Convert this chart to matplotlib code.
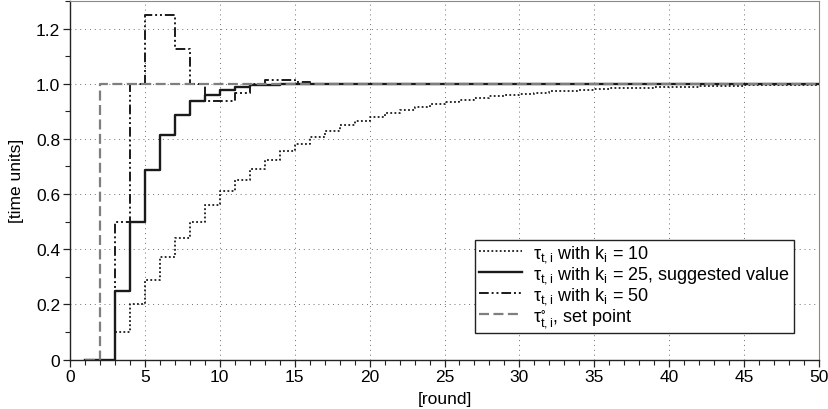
import matplotlib
matplotlib.use("Agg")
import matplotlib.pyplot as plt
from matplotlib.ticker import MultipleLocator, FuncFormatter

plt.rcParams["font.family"] = ["Liberation Sans", "DejaVu Sans"]
plt.rcParams["mathtext.fontset"] = "custom"
plt.rcParams["mathtext.rm"] = "Liberation Sans"
plt.rcParams["mathtext.it"] = "Liberation Sans:italic"
plt.rcParams["mathtext.sf"] = "Liberation Sans"

rounds = list(range(1, 51))

# integral gain k_i = 10
tau_k10 = [0, 0, 0.10, 0.20, 0.29, 0.37, 0.44, 0.50, 0.56, 0.61,
           0.65, 0.69, 0.725, 0.755, 0.783, 0.808, 0.830, 0.850, 0.866, 0.881,
           0.894, 0.906, 0.917, 0.926, 0.935, 0.942, 0.949, 0.955, 0.960, 0.964,
           0.968, 0.972, 0.975, 0.978, 0.980, 0.983, 0.985, 0.986, 0.988, 0.989,
           0.990, 0.991, 0.992, 0.993, 0.994, 0.995, 0.995, 0.996, 0.996, 0.997]

# integral gain k_i = 25 (suggested)
tau_k25 = [0, 0, 0.25, 0.50, 0.688, 0.813, 0.888, 0.938, 0.960, 0.978,
           0.988, 0.994, 0.997, 0.999] + [1.0] * 36

# integral gain k_i = 50
tau_k50 = [0, 0, 0.50, 1.0, 1.25, 1.25, 1.125, 1.0, 0.938, 0.938,
           0.968, 0.998, 1.014, 1.014, 1.005] + [1.0] * 35

# set point
tau_set = [0] + [1.0] * 49

labels = [
    r"$\mathregular{\tau_{t,i}}$ with k$_\mathregular{i}$ = 10",
    r"$\mathregular{\tau_{t,i}}$ with k$_\mathregular{i}$ = 25, suggested value",
    r"$\mathregular{\tau_{t,i}}$ with k$_\mathregular{i}$ = 50",
    r"$\mathregular{\tau^{\circ}_{t,i}}$, set point",
]

FS = 12.5

fig = plt.figure(figsize=(8.29, 4.10), dpi=100)
ax = fig.add_axes([0.0844, 0.1207, 0.9036, 0.8743])

ax.step(rounds, tau_k10, where="post", color="#1a1a1a", lw=1.3,
        linestyle=(0, (1, 1.3)), label=labels[0])
ax.step(rounds, tau_k25, where="post", color="#1a1a1a", lw=1.7,
        linestyle="-", label=labels[1])
ax.step(rounds, tau_k50, where="post", color="#1a1a1a", lw=1.4,
        linestyle=(0, (5, 1.5, 1, 1.5, 1, 1.5)), label=labels[2])
ax.step(rounds, tau_set, where="post", color="#7f7f7f", lw=1.6,
        linestyle=(0, (4.5, 2)), label=labels[3])

ax.set_xlim(0, 50)
ax.set_ylim(0, 1.3)
ax.xaxis.set_major_locator(MultipleLocator(5))
ax.xaxis.set_minor_locator(MultipleLocator(1))
ax.yaxis.set_major_locator(MultipleLocator(0.2))
ax.yaxis.set_minor_locator(MultipleLocator(0.1))
ax.yaxis.set_major_formatter(FuncFormatter(lambda v, p: "0" if abs(v) < 1e-9 else f"{v:.1f}"))

ax.grid(True, which="major", color="#6f6f6f", lw=0.7, linestyle=(0, (1, 4)))
ax.tick_params(which="both", direction="out", top=False, right=False,
               labelsize=FS, color="#222222")
ax.tick_params(which="major", length=5, width=0.9, pad=2)
ax.tick_params(which="minor", length=3.5, width=0.8)

for side in ("left", "bottom"):
    ax.spines[side].set_color("#222222")
    ax.spines[side].set_linewidth(1.0)
for side in ("top", "right"):
    ax.spines[side].set_color("#8a8a8a")
    ax.spines[side].set_linewidth(0.8)

ax.set_xlabel("[round]", fontsize=FS, labelpad=5)
ax.set_ylabel("[time units]", fontsize=FS)
ax.yaxis.set_label_coords(-0.062, 0.5)

leg = ax.legend(loc="lower right", bbox_to_anchor=(0.966, 0.075), fontsize=13,
                frameon=True, fancybox=False, framealpha=1, edgecolor="#222222",
                handlelength=2.4, handletextpad=0.6, labelspacing=0.0,
                borderpad=0.2, borderaxespad=0)
leg.get_frame().set_linewidth(1.0)

fig.savefig("out.png", dpi=100)
